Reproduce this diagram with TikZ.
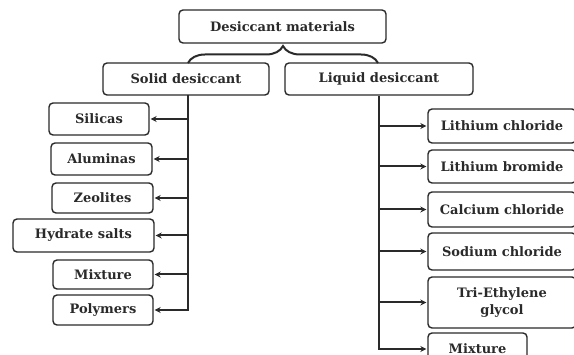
\documentclass[tikz,border=0pt]{standalone}
\usepackage{fontspec}
\setmainfont{DejaVu Serif}
\usetikzlibrary{decorations.pathreplacing,arrows.meta}
\definecolor{ink}{HTML}{2A2A2A}
\tikzset{
  box/.style={draw=ink, line width=1.4pt, rounded corners=4pt, fill=white, text=ink,
    font=\bfseries\fontsize{13}{14}\selectfont, inner sep=0pt, align=center},
  link/.style={draw=ink, line width=2pt},
  arr/.style={link, -{Stealth[length=6pt,width=6pt]}, shorten >=1pt}
}
\begin{document}
\begin{tikzpicture}[x=1pt,y=-1pt]
\useasboundingbox (0,0) rectangle (574,355);
% top
\node[box, minimum width=207pt, minimum height=33pt] (top) at (282.5,26.5) {Desiccant materials};
\node[box, minimum width=166pt, minimum height=32pt] (solid) at (186,79) {Solid desiccant};
\node[box, minimum width=188pt, minimum height=32pt] (liquid) at (379,79) {Liquid desiccant};
\coordinate (bl) at (188,63);
\coordinate (br) at (378,63);
\draw[link, decorate, decoration={brace, amplitude=17pt}] (bl) -- (br);
% left boxes
\node[box, minimum width=100pt, minimum height=32pt] (silicas) at (99,119) {Silicas};
\node[box, minimum width=101pt, minimum height=32pt] (aluminas) at (101.5,159) {Aluminas};
\node[box, minimum width=101pt, minimum height=30pt] (zeolites) at (102.5,198) {Zeolites};
\node[box, minimum width=141pt, minimum height=33pt] (hydrate) at (83.5,235.5) {Hydrate salts};
\node[box, minimum width=100pt, minimum height=29pt] (mixl) at (103,274.5) {Mixture};
\node[box, minimum width=100pt, minimum height=30pt] (polymers) at (103,310) {Polymers};
\coordinate (ls) at (188,95);
\draw[arr] (ls) |- (polymers.east);
\foreach \n in {silicas,aluminas,zeolites,hydrate,mixl}
  \draw[arr] (ls |- \n.east) -- (\n.east);
% right boxes
\node[box, minimum width=148pt, minimum height=34pt] (licl) at (502,126) {Lithium chloride};
\node[box, minimum width=148pt, minimum height=33pt] (libr) at (502,166.5) {Lithium bromide};
\node[box, minimum width=148pt, minimum height=35pt] (cacl) at (502,209.5) {Calcium chloride};
\node[box, minimum width=148pt, minimum height=37pt] (nacl) at (502,251.5) {Sodium chloride};
\node[box, minimum width=148pt, minimum height=51pt] (teg) at (502,302.5) {Tri-Ethylene\\[3pt]glycol};
\node[box, minimum width=99pt, minimum height=32pt] (mixr) at (477.5,349) {Mixture};
\draw[arr] (liquid.south) |- (mixr.west);
\foreach \n in {licl,libr,cacl,nacl,teg}
  \draw[arr] (liquid.south |- \n.west) -- (\n.west);
\end{tikzpicture}
\end{document}
